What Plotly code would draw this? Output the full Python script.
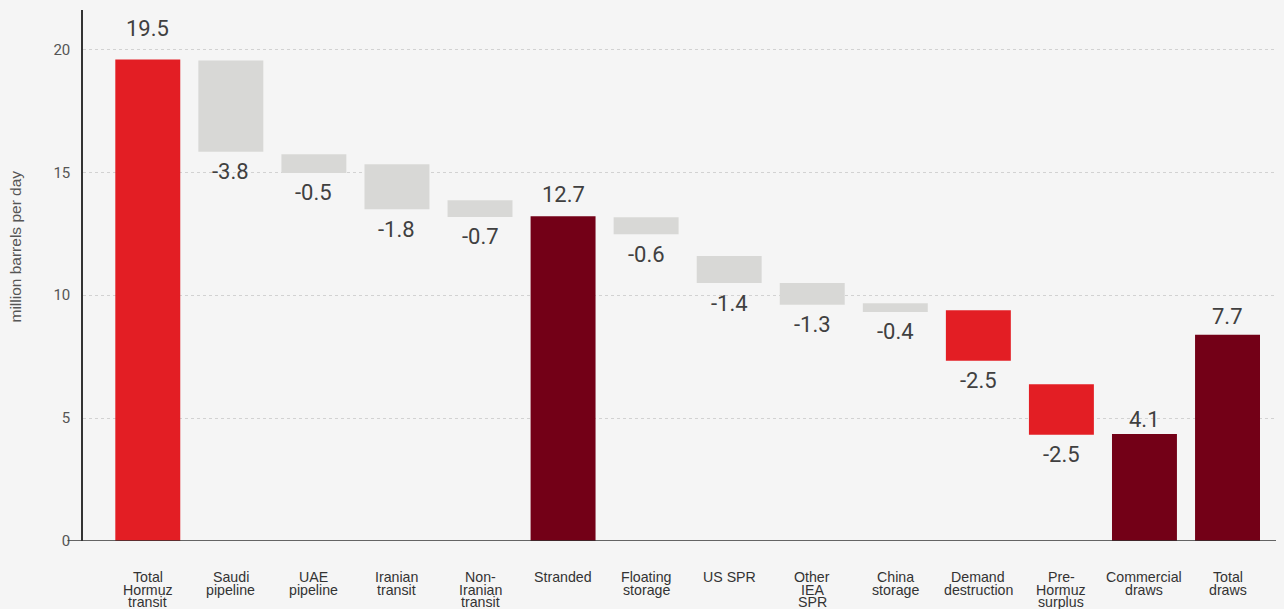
import plotly.graph_objects as go

categories = ["Total<br>Hormuz<br>transit", "Saudi<br>pipeline", "UAE<br>pipeline", "Iranian<br>transit",
              "Non-<br>Iranian<br>transit", "Stranded", "Floating<br>storage", "US SPR",
              "Other<br>IEA<br>SPR", "China<br>storage", "Demand<br>destruction", "Pre-<br>Hormuz<br>surplus",
              "Commercial<br>draws", "Total<br>draws"]
bar_top = [19.59, 19.55, 15.73, 15.33, 13.86, 13.21, 13.17, 11.59, 10.49, 9.67, 9.39, 6.38, 4.35, 8.39]
bar_bottom = [0, 15.83, 14.97, 13.50, 13.18, 0, 12.48, 10.49, 9.61, 9.32, 7.33, 4.32, 0, 0]
value_labels = ["19.5", "-3.8", "-0.5", "-1.8", "-0.7", "12.7", "-0.6", "-1.4", "-1.3", "-0.4",
                "-2.5", "-2.5", "4.1", "7.7"]
kinds = ["total", "delta", "delta", "delta", "delta", "sub", "delta", "delta", "delta", "delta",
         "red", "red", "sub", "sub"]
y_ticks = [0, 5, 10, 15, 20]

RED = "#e31e24"
DARK = "#730017"
GREY = "#d8d8d6"
color_map = {"total": RED, "delta": GREY, "red": RED, "sub": DARK}
colors = [color_map[k] for k in kinds]

xs = list(range(len(categories)))
fig = go.Figure()
fig.add_trace(go.Bar(
    x=xs,
    y=[t - b for t, b in zip(bar_top, bar_bottom)],
    base=bar_bottom,
    marker=dict(color=colors, line=dict(width=0)),
    hoverinfo="skip",
))

# label offsets (pixels) for positive labels above bars / negative below
pos_shift = {0: 31, 5: 22, 12: 15, 13: 18}
annotations = []
for i, lab in enumerate(value_labels):
    if lab.startswith("-"):
        annotations.append(dict(x=i, y=bar_bottom[i], xref="x", yref="y", text=lab,
                                showarrow=False, yanchor="middle", yshift=-20,
                                font=dict(family="Roboto", size=22, color="#404040")))
    else:
        annotations.append(dict(x=i, y=bar_top[i], xref="x", yref="y", text=lab,
                                showarrow=False, yanchor="middle", yshift=pos_shift.get(i, 20),
                                font=dict(family="Roboto", size=22, color="#404040")))

for i, cat in enumerate(categories):
    for j, line in enumerate(cat.split("<br>")):
        annotations.append(dict(x=i, y=0, xref="x", yref="paper", text=line,
                                showarrow=False, yanchor="middle", yshift=-36 - 12.6 * j,
                                borderpad=0,
                                font=dict(family="Liberation Sans", size=14.2, color="#333333")))

annotations.append(dict(x=-0.0566, y=0.5546, xref="paper", yref="paper", text="million barrels per day",
                        textangle=-90, showarrow=False, xanchor="center", yanchor="middle",
                        font=dict(family="Liberation Sans", size=15.5, color="#555555")))

# page body has an 8px margin; size the figure so the plot area lands where the reference's does
fig.update_layout(
    width=1276, height=601,
    margin=dict(l=75, r=0, t=2, b=68),
    paper_bgcolor="#f5f5f5", plot_bgcolor="#f5f5f5",
    bargap=0.218,
    showlegend=False,
    annotations=annotations,
    xaxis=dict(range=[-0.78, 13.68], showticklabels=False, showgrid=False, zeroline=False,
               showline=False, ticks=""),
    yaxis=dict(range=[0, 21.6], tickvals=y_ticks, showgrid=True, gridcolor="#d2d2d2",
               griddash="dot", gridwidth=1, zeroline=False, showline=True, linecolor="#333333",
               linewidth=1.5, ticks="", ticklabelstandoff=8,
               tickfont=dict(family="Roboto", size=15, color="#555555")),
    shapes=[dict(type="line", xref="paper", yref="y", x0=-0.013, x1=1, y0=0, y1=0,
                 line=dict(color="#333333", width=1.5))],
)

fig.write_html("out.html", post_script="document.body.style.background='#f5f5f5';")
